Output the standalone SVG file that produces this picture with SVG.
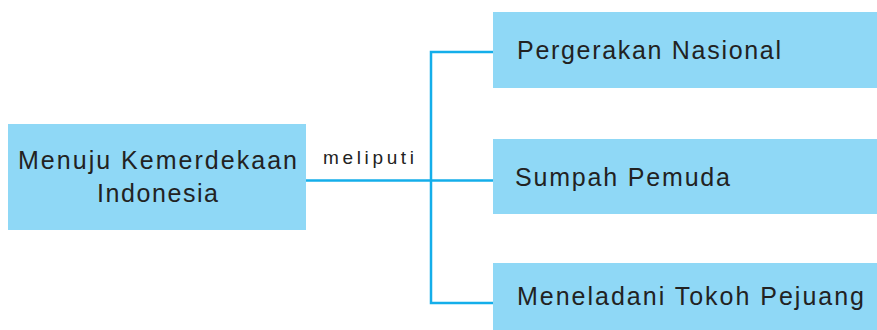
<svg xmlns="http://www.w3.org/2000/svg" width="877" height="330" viewBox="0 0 877 330">
<style>
.box{fill:#8fd8f6;}
.t{font-family:"Liberation Sans",Arial,sans-serif;font-size:25px;fill:#222;}
.lbl{font-family:"Liberation Sans",Arial,sans-serif;font-size:19px;fill:#222;}
.c{fill:none;stroke:#14aeea;stroke-width:2.5;}
</style>
<rect width="877" height="330" fill="#fff"/>
<g id="connectors">
<path class="c" d="M305 180.5H493"/>
<path class="c" d="M493 52H431V303H493"/>
<text class="lbl" x="323" y="164" textLength="91" lengthAdjust="spacing">meliputi</text>
</g>
<g id="root">
<rect class="box" x="8" y="124" width="298" height="106"/>
<text class="t" x="18" y="169" textLength="279" lengthAdjust="spacing">Menuju Kemerdekaan</text>
<text class="t" x="97" y="202" textLength="121" lengthAdjust="spacing">Indonesia</text>
</g>
<g id="n1">
<rect class="box" x="493" y="12" width="384" height="76"/>
<text class="t" x="517" y="59" textLength="264" lengthAdjust="spacing">Pergerakan Nasional</text>
</g>
<g id="n2">
<rect class="box" x="493" y="139" width="384" height="75"/>
<text class="t" x="515" y="186" textLength="215" lengthAdjust="spacing">Sumpah Pemuda</text>
</g>
<g id="n3">
<rect class="box" x="493" y="263" width="384" height="67"/>
<text class="t" x="517" y="305" textLength="347" lengthAdjust="spacing">Meneladani Tokoh Pejuang</text>
</g>
</svg>
